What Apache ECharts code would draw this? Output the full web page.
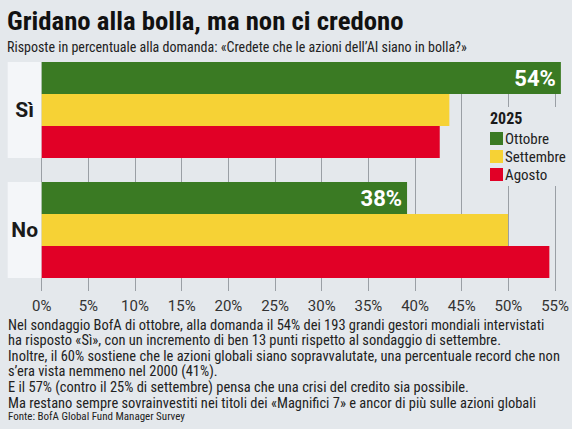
<!DOCTYPE html>
<html>
<head>
<meta charset="utf-8">
<script src="https://cdn.jsdelivr.net/npm/echarts@6/dist/echarts.min.js"></script>
<style>
html,body{margin:0;padding:0;background:#e4e8ec;}
#c{width:572px;height:429px;}
</style>
</head>
<body>
<div id="c"></div>
<script>
const categories = ['Sì', 'No'];
const seriesNames = ['Ottobre', 'Settembre', 'Agosto'];
const ottobre = [54, 38];
const settembre = [42.4, 48.5];
const agosto = [41.4, 52.8];
const xTicks = {min: 0, max: 55, interval: 5};
const titleText = 'Gridano alla bolla, ma non ci credono';
const subtitleText = 'Risposte in percentuale alla domanda: «Credete che le azioni dell\u2019AI siano in bolla?»';
const legendTitle = '2025';
const noteLines = [
  'Nel sondaggio BofA di ottobre, alla domanda il 54% dei 193 grandi gestori mondiali intervistati',
  'ha risposto «Sì», con un incremento di ben 13 punti rispetto al sondaggio di settembre.',
  'Inoltre, il 60% sostiene che le azioni globali siano sopravvalutate, una percentuale record che non',
  's\u2019era vista nemmeno nel 2000 (41%).',
  'E il 57% (contro il 25% di settembre) pensa che una crisi del credito sia possibile.',
  'Ma restano sempre sovrainvestiti nei titoli dei «Magnifici 7» e ancor di più sulle azioni globali'
];
const sourceText = 'Fonte: BofA Global Fund Manager Survey';

const COND = "'Roboto Condensed','DejaVu Sans Condensed','Liberation Sans Narrow',Roboto,sans-serif";
const FONT = "Roboto,'Liberation Sans',sans-serif";
const colors = {Ottobre: '#3a7a23', Settembre: '#f6d235', Agosto: '#e10026'};
const BG = '#e4e8ec';

const chart = echarts.init(document.getElementById('c'), null, {renderer: 'svg'});
const dataBySeries = [ottobre, settembre, agosto];

const barSeries = seriesNames.map((name, i) => ({
  name: name,
  type: 'bar',
  xAxisIndex: 0,
  yAxisIndex: 0,
  data: dataBySeries[i],
  barGap: 0,
  barCategoryGap: '20%',
  itemStyle: {color: colors[name]},
  label: i === 0 ? {
    show: true, position: 'insideRight', distance: 5,
    formatter: p => p.value + '%',
    color: '#fff', fontFamily: FONT, fontWeight: 'bold', fontSize: 22
  } : {show: false}
}));

const noteGraphics = noteLines.map((t, k) => ({
  type: 'text', x: 8, y: 324.5 + 15.6 * k, scaleX: 0.966,
  style: {text: t, font: '15px ' + COND, fill: '#222', verticalAlign: 'middle'}
}));

chart.setOption({
  backgroundColor: BG,
  animation: false,
  grid: [
    {left: 41.7, right: 1.5, top: 50, bottom: 139},
    {left: 41.7, right: 1.5, top: 62, bottom: 138}
  ],
  xAxis: [
    {gridIndex: 0, type: 'value', min: xTicks.min, max: xTicks.max, interval: xTicks.interval, show: false},
    {gridIndex: 1, type: 'value', min: xTicks.min, max: xTicks.max, interval: xTicks.interval,
      axisLine: {show: false}, axisTick: {show: false},
      splitLine: {show: true, lineStyle: {color: '#9a9fa5', width: 1}},
      axisLabel: {formatter: '{value}%', color: '#333', fontFamily: FONT, fontSize: 15, margin: 7,
        showMaxLabel: true}
    }
  ],
  yAxis: [
    {gridIndex: 0, type: 'category', inverse: true, data: categories,
      axisLine: {show: false}, axisTick: {show: false},
      axisLabel: {
        margin: 0,
        formatter: v => '{p|' + v + '}',
        rich: {p: {width: 34, height: 96, lineHeight: 96, align: 'center', verticalAlign: 'middle',
          backgroundColor: '#f4f6f9', fontFamily: FONT, fontWeight: 'bold', fontSize: 21, color: '#1a1a1a'}}
      }
    },
    {gridIndex: 1, type: 'category', data: categories, show: false}
  ],
  legend: {
    orient: 'vertical', left: 483, top: 107,
    padding: [24, 6, 4, 7],
    backgroundColor: BG,
    data: seriesNames,
    icon: 'rect', itemWidth: 13, itemHeight: 13, itemGap: 3,
    textStyle: {fontFamily: COND, fontSize: 15, color: '#222', padding: [0, 0, 0, -3]},
    selectedMode: false
  },
  graphic: [
    {type: 'text', x: 490, y: 118.5, z: 100,
      style: {text: legendTitle, font: 'bold 16px ' + COND, fill: '#1a1a1a', verticalAlign: 'middle'}},
    {type: 'text', x: 7, y: 21, scaleX: 1.03,
      style: {text: titleText, font: 'bold 26px ' + COND, fill: '#111', verticalAlign: 'middle'}},
    {type: 'text', x: 7, y: 46.5,
      style: {text: subtitleText, font: '14px ' + COND, fill: '#222', verticalAlign: 'middle'}},
    {type: 'text', x: 8, y: 416.5,
      style: {text: sourceText, font: '11px ' + COND, fill: '#222', verticalAlign: 'middle'}}
  ].concat(noteGraphics),
  series: barSeries.concat([{type: 'scatter', xAxisIndex: 1, yAxisIndex: 1, data: [], silent: true}])
});
</script>
</body>
</html>
